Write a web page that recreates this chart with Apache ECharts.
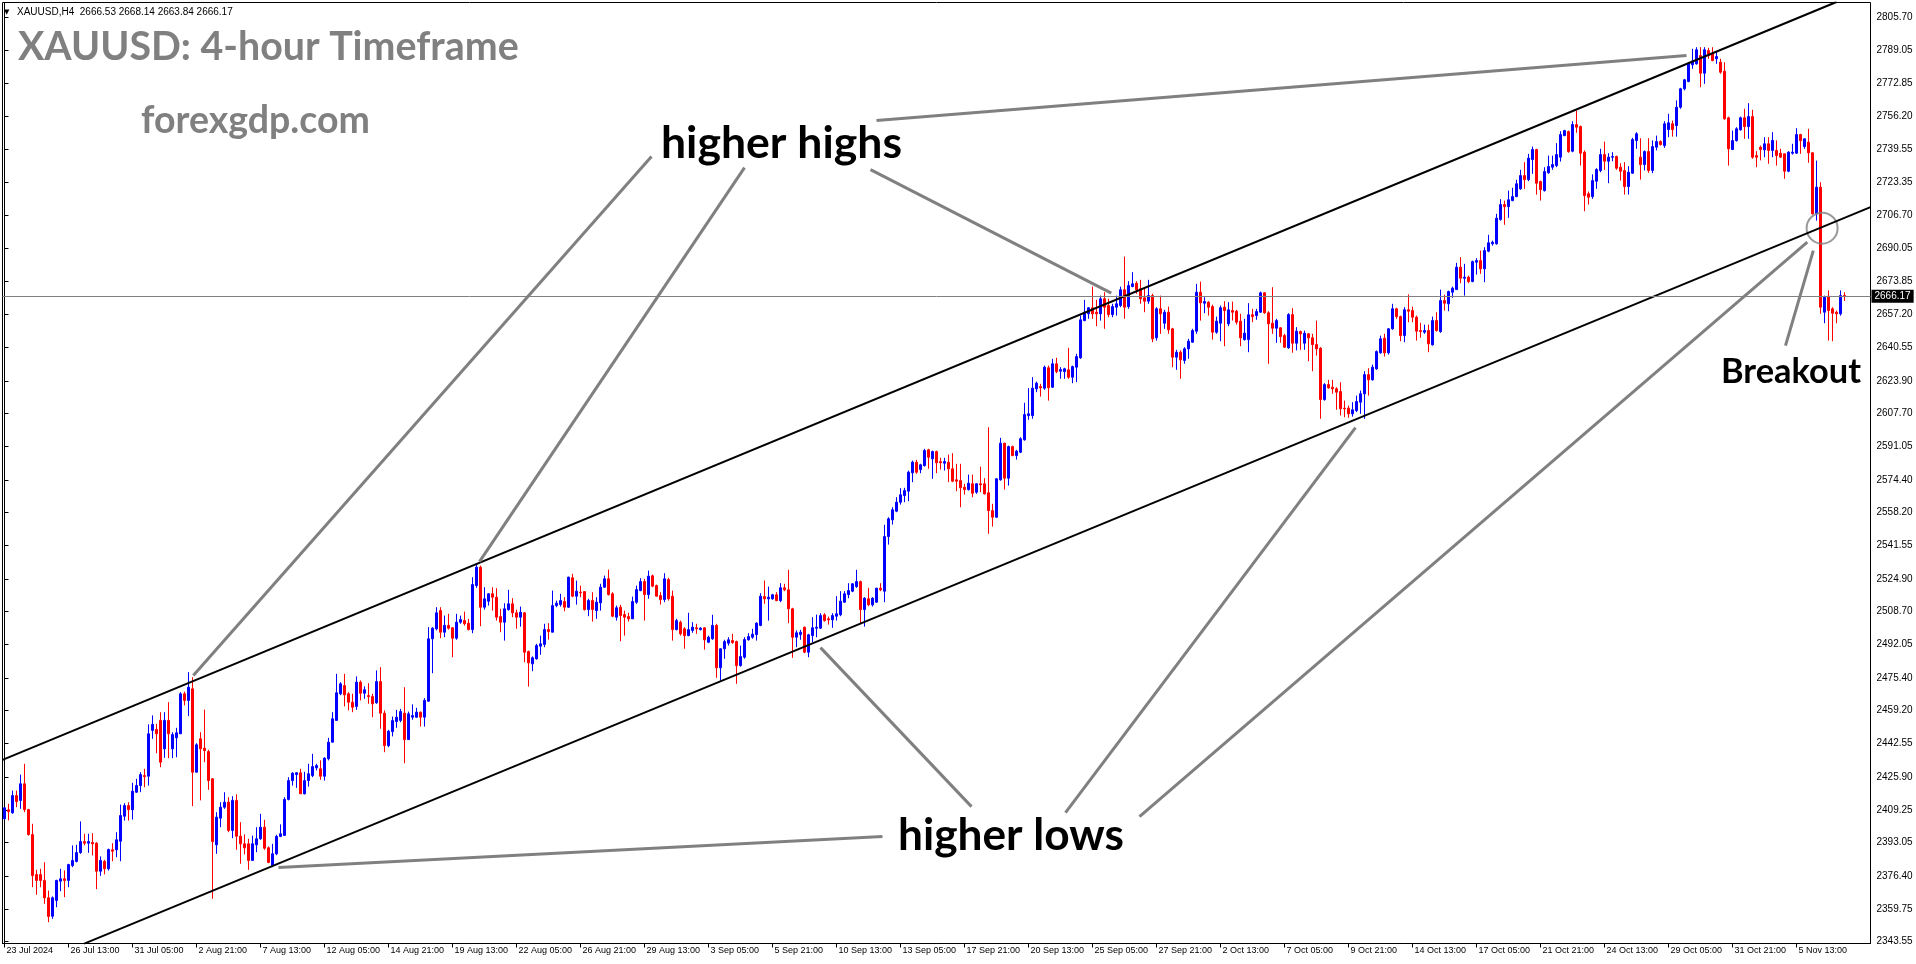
<!DOCTYPE html>
<html>
<head>
<meta charset="utf-8">
<script src="https://cdn.jsdelivr.net/npm/echarts@6/dist/echarts.min.js"></script>
<style>
html,body{margin:0;padding:0;background:#fff;}
#chart{width:1916px;height:964px;}
</style>
</head>
<body>
<div id="chart"></div>
<script>
// ---- data ----
const tickLabels = ['23 Jul 2024','26 Jul 13:00','31 Jul 05:00','2 Aug 21:00','7 Aug 13:00','12 Aug 05:00','14 Aug 21:00','19 Aug 13:00','22 Aug 05:00','26 Aug 21:00','29 Aug 13:00','3 Sep 05:00','5 Sep 21:00','10 Sep 13:00','13 Sep 05:00','17 Sep 21:00','20 Sep 13:00','25 Sep 05:00','27 Sep 21:00','2 Oct 13:00','7 Oct 05:00','9 Oct 21:00','14 Oct 13:00','17 Oct 05:00','21 Oct 21:00','24 Oct 13:00','29 Oct 05:00','31 Oct 21:00','5 Nov 13:00'];
const labelEvery = 16;
const barSlots = 467;
const priceTicks = [2805.70,2789.05,2772.85,2756.20,2739.55,2723.35,2706.70,2690.05,2673.85,2657.20,2640.55,2623.90,2607.70,2591.05,2574.40,2558.20,2541.55,2524.90,2508.70,2492.05,2475.40,2459.20,2442.55,2425.90,2409.25,2393.05,2376.40,2359.75,2343.55];
const currentPrice = 2666.17;
const headerText = 'XAUUSD,H4  2666.53 2668.14 2663.84 2666.17';
// candles: [open, close, low, high]
const ohlc = [
[2404.9,2410.4,2404.4,2410.7],[2409.4,2408.5,2404.1,2412.4],[2407.9,2416.5,2407.4,2419.0],[2416.5,2413.5,2410.7,2419.0],[2414.1,2422.4,2409.9,2427.0],
[2422.4,2409.5,2408.2,2432.4],[2409.5,2397.0,2396.5,2409.9],[2397.0,2376.5,2370.7,2402.4],[2377.0,2374.1,2366.9,2379.4],[2377.0,2374.1,2370.7,2379.9],
[2374.1,2365.4,2362.4,2383.2],[2365.4,2356.1,2353.2,2369.0],[2356.2,2365.4,2354.9,2366.1],[2364.1,2374.1,2360.7,2374.4],[2373.7,2374.9,2368.7,2379.9],
[2374.9,2374.1,2365.7,2379.1],[2374.1,2382.0,2370.7,2382.4],[2381.5,2384.1,2380.7,2391.6],[2383.6,2388.0,2383.1,2391.9],[2388.0,2393.5,2387.4,2403.6],
[2393.5,2392.7,2391.6,2397.4],[2392.7,2393.5,2387.9,2397.4],[2393.1,2392.4,2386.6,2397.7],[2392.7,2378.7,2369.7,2393.2],[2378.7,2384.1,2376.4,2386.1],
[2383.6,2379.9,2377.1,2384.4],[2379.9,2389.5,2379.0,2390.0],[2389.4,2388.7,2383.7,2392.7],[2389.4,2394.4,2385.7,2398.2],[2393.7,2406.5,2383.7,2412.0],
[2406.2,2411.5,2404.0,2412.7],[2411.5,2409.5,2404.0,2413.2],[2409.4,2418.7,2404.5,2422.9],[2418.2,2421.5,2417.9,2424.9],[2421.5,2427.0,2418.2,2428.2],
[2426.5,2426.0,2420.7,2429.9],[2426.2,2447.4,2421.5,2452.1],[2449.1,2452.1,2444.9,2456.6],[2449.6,2447.4,2437.7,2452.4],[2454.1,2433.2,2430.7,2458.2],
[2439.9,2454.1,2435.4,2458.2],[2454.1,2447.4,2435.2,2463.2],[2439.9,2447.0,2435.2,2448.2],[2445.4,2447.9,2435.7,2450.4],[2447.4,2467.4,2447.4,2468.2],
[2467.4,2464.1,2461.6,2468.5],[2464.1,2470.7,2456.2,2478.2],[2469.9,2428.2,2411.2,2475.7],[2428.2,2441.9,2428.2,2442.7],[2444.9,2439.9,2414.1,2448.2],
[2440.2,2439.0,2433.2,2459.5],[2438.5,2424.0,2419.4,2439.4],[2424.9,2393.5,2364.9,2425.2],[2391.9,2405.7,2387.4,2408.2],[2405.2,2410.7,2400.7,2413.2],
[2410.7,2413.2,2409.9,2418.2],[2413.2,2399.1,2398.2,2415.7],[2399.1,2414.1,2395.2,2416.2],[2414.1,2396.2,2389.4,2417.1],[2396.2,2392.4,2382.4,2403.2],
[2392.4,2390.4,2387.1,2397.1],[2392.4,2384.1,2379.4,2394.9],[2384.1,2392.4,2384.1,2396.5],[2391.9,2394.9,2388.2,2400.7],[2394.9,2400.7,2394.4,2407.4],
[2400.7,2390.2,2389.4,2404.4],[2390.4,2383.1,2382.7,2391.1],[2381.5,2387.4,2380.7,2392.4],[2387.4,2396.1,2386.7,2396.9],[2396.1,2397.4,2395.7,2402.1],
[2396.6,2414.6,2396.6,2415.7],[2414.6,2424.0,2414.1,2425.7],[2424.0,2427.7,2421.5,2428.2],[2427.0,2427.9,2420.4,2428.2],[2427.9,2417.4,2417.4,2429.9],
[2417.4,2424.0,2417.1,2428.4],[2424.0,2427.4,2421.0,2432.4],[2426.5,2431.0,2425.7,2437.4],[2430.4,2431.5,2429.1,2432.4],[2429.9,2426.2,2424.4,2434.1],
[2426.2,2435.2,2424.0,2435.7],[2434.9,2443.2,2434.1,2445.4],[2443.2,2454.9,2443.2,2458.2],[2454.1,2467.9,2454.1,2477.4],[2467.4,2472.4,2466.7,2473.2],
[2471.5,2466.9,2461.1,2477.4],[2467.4,2463.2,2459.1,2468.2],[2463.2,2460.7,2458.2,2467.4],[2461.1,2473.2,2459.4,2476.1],[2473.2,2467.7,2464.1,2474.1],
[2467.7,2469.4,2464.9,2471.1],[2466.5,2466.0,2462.4,2472.7],[2466.0,2462.4,2455.7,2467.4],[2462.9,2473.5,2462.4,2479.1],[2473.5,2457.7,2449.9,2480.7],
[2457.7,2441.5,2438.2,2459.1],[2441.5,2448.7,2440.7,2449.4],[2448.5,2454.0,2446.1,2456.0],[2453.5,2455.7,2450.4,2459.4],[2454.1,2458.5,2453.2,2459.9],
[2457.7,2444.5,2432.7,2470.7],[2444.5,2457.4,2444.5,2458.5],[2455.7,2456.5,2454.4,2462.1],[2455.7,2458.2,2455.4,2460.4],[2458.2,2455.7,2451.0,2458.5],
[2455.7,2464.1,2451.0,2465.2],[2463.7,2494.9,2463.5,2500.7],[2494.9,2500.2,2477.7,2500.7],[2499.9,2507.9,2499.1,2510.7],[2509.0,2498.2,2495.2,2510.7],
[2498.2,2501.6,2495.7,2506.5],[2501.6,2500.2,2499.5,2507.4],[2500.4,2495.2,2485.7,2500.7],[2495.2,2503.2,2494.4,2507.4],[2503.2,2504.5,2502.4,2506.5],
[2504.0,2502.4,2501.5,2508.5],[2502.7,2499.5,2499.1,2504.9],[2499.5,2522.0,2497.7,2525.7],[2521.5,2530.7,2520.4,2532.4],[2530.7,2510.7,2501.2,2531.5],
[2510.7,2514.9,2509.5,2520.7],[2513.7,2517.4,2511.5,2517.7],[2517.4,2515.7,2509.0,2520.7],[2515.7,2505.7,2504.0,2520.2],[2506.0,2503.2,2498.2,2509.9],
[2503.2,2509.9,2494.0,2512.7],[2509.5,2512.4,2509.0,2519.4],[2512.4,2507.9,2505.7,2515.2],[2507.9,2505.7,2499.9,2509.5],[2505.7,2508.2,2501.0,2511.0],
[2507.9,2488.2,2483.2,2508.2],[2488.5,2482.9,2471.0,2489.0],[2482.4,2485.4,2478.7,2486.1],[2484.9,2491.5,2484.5,2492.4],[2491.2,2492.4,2486.9,2496.5],
[2492.1,2499.5,2490.7,2502.4],[2499.5,2498.5,2494.5,2502.7],[2498.2,2511.5,2498.2,2519.0],[2511.5,2512.7,2510.7,2514.0],[2512.0,2514.0,2511.0,2517.4],
[2513.5,2510.7,2508.7,2515.7],[2510.7,2525.7,2510.4,2526.0],[2525.4,2516.2,2515.7,2527.4],[2516.2,2518.7,2512.0,2524.0],[2518.2,2517.9,2515.7,2521.5],
[2518.5,2509.5,2509.0,2518.7],[2509.5,2514.0,2506.2,2514.9],[2514.0,2509.5,2503.5,2518.2],[2509.0,2513.2,2504.9,2515.7],[2512.9,2520.7,2509.0,2522.4],
[2520.7,2524.9,2520.4,2526.5],[2524.9,2517.0,2516.5,2529.5],[2517.4,2506.2,2505.7,2518.2],[2505.7,2510.4,2504.0,2511.5],[2510.7,2506.5,2493.7,2511.9],
[2507.0,2505.7,2496.5,2509.0],[2506.0,2504.9,2503.5,2507.9],[2504.9,2513.5,2504.9,2516.0],[2513.2,2519.5,2512.4,2521.5],[2519.0,2523.5,2518.7,2525.2],
[2523.5,2517.0,2504.0,2524.9],[2517.0,2526.2,2514.9,2529.0],[2526.4,2521.2,2520.7,2527.0],[2521.5,2516.2,2516.0,2522.0],[2516.5,2514.5,2512.0,2518.2],
[2514.5,2524.9,2513.2,2527.7],[2524.5,2514.9,2514.0,2525.4],[2516.2,2499.5,2494.0,2519.0],[2499.5,2504.0,2499.1,2504.9],[2503.2,2497.4,2496.5,2504.0],
[2499.9,2496.5,2489.9,2500.7],[2496.5,2499.5,2496.2,2507.9],[2499.1,2500.7,2497.9,2503.2],[2500.4,2499.9,2497.4,2502.4],[2499.5,2500.2,2499.1,2500.7],
[2500.4,2494.4,2489.5,2500.7],[2493.2,2495.7,2492.7,2496.5],[2494.9,2501.6,2494.4,2506.9],[2501.6,2480.4,2475.4,2502.4],[2480.4,2489.9,2474.0,2490.2],
[2489.9,2493.5,2484.9,2494.4],[2492.7,2494.4,2491.5,2495.7],[2494.0,2493.0,2492.4,2497.4],[2493.5,2481.5,2472.4,2494.0],[2481.5,2486.0,2481.0,2491.5],
[2485.7,2494.5,2484.9,2495.7],[2494.4,2496.0,2494.0,2497.7],[2495.7,2497.2,2494.9,2499.9],[2497.0,2502.7,2494.0,2503.2],[2501.6,2516.2,2501.2,2517.7],
[2516.0,2514.9,2512.4,2524.0],[2514.9,2515.7,2504.0,2521.0],
[2514.9,2516.9,2514.4,2517.4],[2516.9,2514.0,2513.7,2518.2],[2514.0,2520.4,2513.2,2522.7],[2520.4,2519.4,2518.7,2522.4],[2519.4,2509.9,2502.7,2529.4],
[2509.9,2495.7,2485.4,2510.4],[2495.7,2497.9,2490.7,2499.1],[2497.0,2498.2,2494.4,2499.4],[2500.7,2488.2,2487.7,2501.0],[2488.2,2496.9,2485.7,2497.4],
[2496.5,2500.4,2493.2,2505.7],[2500.2,2500.7,2495.7,2507.0],[2500.2,2506.5,2499.9,2507.7],[2506.9,2504.0,2503.5,2507.7],[2504.9,2504.4,2502.0,2506.0],
[2504.4,2506.5,2500.4,2507.7],[2506.2,2507.4,2504.0,2516.2],[2506.9,2513.7,2506.2,2518.7],[2513.2,2517.4,2512.9,2518.7],[2517.0,2519.0,2515.2,2522.7],
[2518.7,2522.4,2518.2,2522.7],[2521.0,2523.5,2520.4,2529.4],[2523.5,2509.5,2502.4,2524.0],[2509.5,2515.2,2501.0,2515.7],[2514.9,2511.9,2511.2,2520.4],
[2511.9,2515.2,2511.0,2515.7],[2513.2,2520.2,2512.9,2520.4],[2520.2,2519.4,2518.7,2522.7],[2518.7,2546.0,2513.2,2551.9],[2546.0,2554.9,2542.0,2555.7],
[2554.4,2559.4,2552.0,2560.7],[2558.7,2563.2,2558.2,2565.7],[2563.2,2566.9,2562.0,2570.2],[2566.5,2569.0,2563.2,2570.4],[2568.7,2578.2,2563.7,2579.0],
[2577.9,2583.2,2573.2,2584.0],[2583.2,2578.2,2577.4,2584.4],[2579.5,2581.9,2577.7,2582.4],[2581.5,2589.0,2581.0,2589.9],[2589.4,2585.7,2579.9,2589.9],
[2584.9,2588.5,2574.9,2589.0],[2588.5,2582.9,2577.7,2589.0],[2583.5,2582.9,2579.5,2585.4],[2582.7,2583.5,2579.0,2585.4],[2583.2,2579.9,2573.2,2587.0],
[2579.9,2573.7,2573.2,2587.7],[2574.4,2573.7,2568.7,2582.4],[2574.0,2570.4,2560.7,2582.4],[2570.7,2569.5,2567.0,2572.4],[2569.5,2572.7,2569.0,2577.0],
[2572.4,2567.7,2565.7,2577.0],[2568.2,2572.4,2567.4,2572.7],[2572.4,2571.9,2568.2,2581.0],[2572.4,2567.4,2567.0,2575.2],[2567.9,2559.0,2547.4,2600.7],
[2559.0,2555.7,2551.0,2562.4],[2555.7,2574.9,2555.4,2575.2],[2574.4,2592.7,2574.0,2595.4],[2592.7,2575.2,2569.5,2592.9],[2575.2,2591.0,2571.5,2591.5],
[2591.0,2586.5,2586.2,2591.5],[2586.5,2588.7,2584.5,2589.4],[2588.2,2594.9,2587.7,2595.7],[2594.4,2607.0,2594.0,2612.9],[2606.5,2607.4,2604.4,2620.2],
[2606.5,2620.2,2604.9,2625.7],[2619.9,2622.7,2618.2,2623.5],[2621.0,2620.4,2616.0,2622.4],[2620.2,2630.7,2619.4,2631.5],[2630.4,2620.4,2614.0,2631.5],
[2620.7,2632.4,2620.4,2634.9],[2632.4,2628.5,2627.7,2635.4],[2628.7,2629.5,2624.9,2630.7],[2628.5,2629.9,2624.9,2630.4],[2629.4,2625.7,2624.9,2640.4],
[2625.7,2631.0,2622.7,2631.5],[2630.7,2636.0,2623.2,2637.4],[2635.4,2654.4,2634.9,2656.5],[2654.0,2658.2,2653.7,2664.4],[2657.4,2660.4,2654.9,2660.7],
[2660.4,2657.4,2654.9,2671.0],[2658.2,2657.4,2651.2,2664.4],[2657.4,2664.9,2654.0,2666.5],[2664.9,2660.7,2649.9,2668.2],[2661.5,2657.0,2655.7,2664.9],
[2657.0,2661.0,2655.7,2662.4],[2660.7,2662.4,2656.5,2666.5],[2661.5,2669.4,2660.7,2671.0],[2669.4,2660.7,2654.9,2686.0],[2661.0,2671.5,2659.9,2673.7],
[2671.0,2672.4,2670.7,2678.2],[2672.7,2669.4,2667.4,2673.7],[2669.9,2664.9,2662.4,2674.4],[2665.4,2663.7,2658.2,2670.7],[2663.7,2666.5,2662.4,2674.4],
[2666.5,2644.9,2643.2,2667.4],[2645.4,2659.9,2644.0,2660.7],[2659.9,2657.4,2647.4,2666.5],[2652.7,2658.2,2649.9,2659.4],[2658.2,2649.4,2647.4,2661.0],
[2649.9,2635.7,2630.7,2650.4],[2635.7,2638.2,2629.4,2639.4],[2638.2,2634.4,2624.9,2639.1],[2634.1,2639.9,2632.4,2640.7],[2639.9,2643.7,2634.9,2644.9],
[2643.2,2649.0,2642.9,2649.9],[2648.7,2668.2,2647.4,2672.4],[2668.2,2662.9,2654.0,2673.5],[2662.7,2663.5,2657.7,2665.7],[2663.2,2660.7,2656.5,2663.7],
[2661.0,2648.2,2644.5,2662.0],[2648.2,2653.7,2647.4,2656.0],[2652.7,2660.4,2643.7,2661.5],[2660.7,2659.0,2641.2,2663.7],[2652.4,2659.4,2651.2,2663.2],
[2659.0,2658.2,2654.0,2663.5],[2658.7,2653.2,2652.0,2659.4],[2653.7,2645.4,2641.2,2657.4],[2644.5,2647.7,2644.0,2654.9],[2644.5,2656.9,2638.2,2662.7],
[2656.9,2656.0,2653.2,2659.9],[2656.5,2658.5,2654.4,2659.9],[2658.2,2667.9,2657.9,2668.5],[2667.9,2657.9,2657.4,2668.2],[2657.9,2652.4,2632.4,2658.7],
[2652.7,2650.2,2647.4,2670.7],[2650.2,2654.0,2642.9,2654.9],[2650.4,2646.0,2642.9,2650.7],[2646.5,2640.7,2640.4,2647.4],[2640.4,2657.0,2639.9,2657.7],
[2657.0,2642.7,2637.9,2660.2],[2642.7,2648.7,2639.1,2650.7],[2648.5,2647.4,2639.4,2649.0],[2642.7,2647.7,2639.4,2649.0],[2647.4,2645.4,2633.7,2647.7],
[2645.4,2642.0,2628.7,2647.4],[2642.0,2639.9,2636.5,2654.0],[2640.2,2614.5,2604.9,2640.7],[2614.5,2622.0,2614.0,2622.7],[2622.0,2620.4,2619.9,2624.4],
[2620.7,2619.9,2617.4,2624.4],[2619.9,2618.2,2609.4,2620.7],[2618.5,2609.9,2606.5,2623.2],[2610.2,2609.9,2605.7,2614.0],[2610.2,2607.4,2605.4,2611.5],
[2607.4,2609.4,2606.0,2613.2],[2609.0,2613.5,2608.2,2616.5],[2613.2,2617.4,2607.4,2619.0],[2617.4,2627.0,2604.9,2628.7],[2627.0,2624.4,2616.5,2630.2],
[2624.4,2630.7,2624.0,2632.0],[2629.9,2638.5,2629.4,2639.1],[2637.9,2644.9,2637.4,2646.5],[2645.2,2637.9,2636.0,2647.4],[2637.9,2649.9,2637.0,2650.2],
[2649.9,2659.9,2649.4,2662.4],[2659.9,2656.0,2654.9,2660.4],[2656.0,2646.5,2643.7,2656.5],[2646.5,2659.4,2643.2,2660.7],[2659.4,2658.7,2653.2,2667.1],
[2659.0,2655.7,2653.2,2661.0],[2655.7,2648.7,2644.0,2656.5],[2649.0,2648.5,2645.4,2652.9],[2648.2,2649.0,2647.4,2652.0],[2649.0,2642.4,2638.2,2652.0],
[2641.9,2654.0,2641.5,2656.0],[2654.0,2649.0,2648.5,2658.2],[2648.5,2664.0,2647.9,2669.5],[2664.0,2662.7,2659.0,2666.9],[2662.4,2668.5,2658.7,2669.0],
[2668.2,2670.2,2665.4,2671.0],[2669.5,2680.7,2669.4,2682.9],[2680.7,2675.2,2672.7,2685.7],[2675.2,2675.7,2666.5,2682.4],[2675.7,2673.5,2672.7,2676.5],
[2673.5,2683.5,2673.2,2684.0],[2683.2,2684.0,2677.0,2685.2],[2684.0,2679.9,2677.4,2689.0],[2679.9,2689.0,2673.2,2690.7],[2688.7,2692.9,2688.2,2696.9],
[2692.4,2693.2,2691.5,2694.0],[2692.4,2705.2,2692.0,2707.4],[2704.5,2712.0,2704.0,2714.7],[2712.0,2711.0,2701.9,2714.0],[2711.0,2714.4,2705.4,2719.0],
[2714.0,2716.0,2713.7,2720.4],[2716.0,2722.4,2715.7,2724.4],[2719.9,2726.5,2719.4,2729.4],[2726.5,2724.5,2719.9,2733.2],[2724.5,2735.2,2723.7,2737.4],
[2734.5,2739.5,2727.4,2741.0],[2739.5,2722.7,2717.0,2739.9],[2723.5,2719.5,2714.0,2724.0],[2719.0,2728.5,2718.5,2730.7],[2727.9,2731.0,2727.4,2736.5],
[2730.7,2732.0,2729.4,2736.5],[2731.5,2737.0,2730.7,2742.7],[2735.7,2747.0,2733.5,2748.7],[2746.5,2749.0,2746.2,2749.4],[2748.5,2738.5,2737.9,2749.0],
[2738.7,2752.0,2738.2,2753.7],[2752.0,2750.7,2747.9,2759.0],[2751.0,2737.7,2731.5,2751.5],[2738.2,2716.5,2708.7,2739.1],[2717.4,2715.7,2712.0,2718.5],
[2716.0,2724.0,2714.9,2727.1],[2723.7,2729.5,2719.9,2730.2],[2729.0,2737.0,2728.2,2739.9],[2737.0,2733.7,2729.4,2743.5],[2733.7,2735.7,2722.7,2737.7],
[2735.7,2736.0,2733.7,2738.2],[2736.0,2730.2,2729.4,2736.5],[2730.7,2728.7,2724.0,2732.7],[2729.0,2721.0,2717.0,2733.2],[2721.0,2728.2,2717.0,2731.2],
[2727.7,2744.5,2727.4,2745.4],[2744.0,2747.4,2739.9,2748.2],[2735.7,2732.0,2724.5,2745.2],[2732.0,2738.5,2729.1,2739.1],[2738.5,2729.1,2727.9,2745.2],
[2729.1,2741.0,2727.7,2744.1],[2740.7,2743.5,2739.1,2746.5],[2743.5,2742.0,2741.5,2744.1],
[2741.5,2752.4,2740.4,2753.7],[2749.5,2752.9,2745.7,2757.4],[2752.4,2749.5,2746.0,2754.0],[2751.5,2760.7,2746.0,2764.1],[2760.7,2769.9,2759.9,2770.4],
[2769.9,2774.4,2769.1,2774.9],[2773.5,2782.4,2773.2,2783.2],[2781.9,2783.7,2779.9,2789.9],[2782.4,2789.4,2782.0,2790.7],[2786.5,2777.7,2770.7,2790.7],
[2777.7,2789.4,2772.4,2790.7],[2789.0,2786.5,2784.9,2790.4],[2787.7,2784.0,2783.7,2790.7],[2784.9,2786.0,2782.4,2788.2],[2783.2,2778.2,2777.4,2784.9],
[2778.7,2754.9,2754.4,2783.2],[2755.4,2739.9,2731.5,2756.0],[2739.5,2744.0,2739.4,2749.0],[2744.0,2749.9,2743.5,2750.7],[2749.4,2755.4,2749.0,2756.0],
[2755.4,2751.0,2744.9,2759.9],[2751.0,2756.0,2744.9,2762.7],[2756.0,2735.7,2734.9,2759.4],[2736.5,2735.7,2730.7,2738.7],[2740.7,2739.5,2734.1,2741.5],
[2739.4,2742.4,2735.7,2745.7],[2742.4,2739.1,2732.4,2745.7],[2739.1,2744.1,2735.7,2748.2],[2739.1,2736.5,2731.5,2744.1],[2737.7,2735.7,2735.4,2739.9],
[2737.4,2728.7,2724.9,2737.4],[2728.7,2738.2,2728.2,2738.7],[2737.7,2738.2,2737.0,2742.4],[2737.7,2747.0,2737.4,2750.2],[2747.0,2744.0,2737.4,2747.4],
[2741.0,2744.9,2739.9,2744.9],[2743.2,2737.9,2732.9,2749.9],[2737.9,2707.4,2707.0,2738.2],[2707.4,2720.7,2704.0,2734.0],[2720.7,2660.7,2657.4,2723.2],
[2658.2,2665.7,2652.7,2666.5],[2666.2,2659.0,2644.0,2669.1],[2659.9,2657.7,2643.7,2660.7],[2658.2,2657.4,2652.7,2659.0],[2657.4,2666.5,2656.5,2669.1],
[2666.53,2666.17,2663.84,2668.14]
];
// channel lines [barIndex, price]
const upperChannel = [[-0.5, 2434.4], [458, 2813.3]];
const lowerChannel = [[19.8, 2342.4], [466.5, 2710.7]];
// gray pointer lines [barIndex, price]
const pointerLines = [
  [[161.75, 2736.0], [47.2, 2476.6]],
  [[185.0, 2730.5], [118.75, 2533.5]],
  [[216.5, 2729.5], [276.7, 2667.7]],
  [[218.0, 2754.0], [420.5, 2786.5]],
  [[219.5, 2396.0], [68.5, 2380.5]],
  [[241.75, 2411.0], [204.0, 2490.5]],
  [[265.25, 2408.0], [337.75, 2600.5]],
  [[283.75, 2406.0], [450.7, 2693.2]],
  [[445.25, 2641.5], [452.2, 2689.0]]
];
const breakoutCircle = [454.4, 2700.2];

// ---- chart ----
const categories = Array.from({length: barSlots}, (_, i) => String(i));
const isLabelIdx = (i) => i % labelEvery === 0 && (i / labelEvery) < tickLabels.length;

function fitSize(text, font, target) {
  const ctx = document.createElement('canvas').getContext('2d');
  ctx.font = 'bold 100px ' + font;
  return 100 * target / ctx.measureText(text).width;
}
const bigFont = 'Lato, "Open Sans", sans-serif';
function bigText(text, left, baseline, width, color) {
  const s = fitSize(text, bigFont, width);
  return {
    type: 'text', x: left, y: baseline - 0.36 * s, silent: true,
    style: { text: text, font: 'bold ' + s.toFixed(2) + 'px ' + bigFont, fill: color,
      textAlign: 'left', textVerticalAlign: 'middle', align: 'left', verticalAlign: 'middle' }
  };
}

const chart = echarts.init(document.getElementById('chart'), null, {renderer: 'canvas'});
const series = [
  {
    type: 'candlestick', name: 'XAUUSD', data: ohlc, xAxisIndex: 0, yAxisIndex: 0,
    barWidth: 2,
    itemStyle: { color: '#0000ff', color0: '#ff0000', borderColor: '#0000ff', borderColor0: '#ff0000', borderWidth: 1 },
    silent: true,
    markLine: {
      silent: true, symbol: ['none', 'none'], animation: false,
      lineStyle: { color: '#808080', width: 1, type: 'solid' },
      label: { show: true, position: 'end', distance: 1, formatter: currentPrice.toFixed(2),
        backgroundColor: '#000', color: '#fff', padding: [2, 3, 1, 3], fontSize: 10, fontFamily: 'Liberation Sans' },
      data: [{ yAxis: currentPrice }]
    }
  },
  { type: 'line', data: upperChannel, xAxisIndex: 1, symbol: 'none', silent: true,
    lineStyle: { color: '#000', width: 2 } },
  { type: 'line', data: lowerChannel, xAxisIndex: 1, symbol: 'none', silent: true,
    lineStyle: { color: '#000', width: 2 } }
];
pointerLines.forEach(seg => series.push({
  type: 'line', data: seg, xAxisIndex: 1, symbol: 'none', silent: true,
  lineStyle: { color: '#808080', width: 3, cap: 'butt' }
}));
series.push({
  type: 'scatter', data: [breakoutCircle], xAxisIndex: 1, symbol: 'circle', symbolSize: 31, silent: true,
  itemStyle: { color: 'rgba(0,0,0,0)', borderColor: '#808080', borderWidth: 2 }
});

const hdrFont = 'Liberation Sans, Arial, sans-serif';
chart.setOption({
  animation: false,
  backgroundColor: '#fff',
  grid: { left: 2.5, top: 2.5, right: 45.5, bottom: 20.5, show: true, borderColor: '#000', borderWidth: 1, backgroundColor: '#fff' },
  xAxis: [
    {
      type: 'category', data: categories, boundaryGap: true,
      axisLine: { show: true, lineStyle: { color: '#000', width: 1 } },
      axisTick: { show: true, alignWithLabel: true, length: 4, interval: (i) => isLabelIdx(i), lineStyle: { color: '#000' } },
      axisLabel: { show: true, interval: (i) => isLabelIdx(i), align: 'left', margin: 3, padding: [0, 0, 0, 2],
        formatter: (v) => { const i = +v; return isLabelIdx(i) ? tickLabels[i / labelEvery] : ''; },
        color: '#000', fontSize: 9, fontFamily: hdrFont },
      splitLine: { show: false }
    },
    { type: 'value', min: -0.5, max: barSlots - 0.5, show: false, gridIndex: 0 }
  ],
  yAxis: {
    type: 'value', position: 'right', min: 2342.55, max: 2813.05, scale: true,
    axisLine: { show: true, lineStyle: { color: '#000', width: 1 } },
    axisTick: { show: true, length: 4, customValues: priceTicks, lineStyle: { color: '#000' } },
    axisLabel: { show: true, customValues: priceTicks, formatter: (v) => v.toFixed(2), margin: 6,
      color: '#000', fontSize: 10, fontFamily: hdrFont },
    splitLine: { show: false }
  },
  series: series,
  graphic: [
    { type: 'text', x: 4, y: 12, silent: true, style: { text: '▼', font: '7px "DejaVu Sans"', fill: '#000', textVerticalAlign: 'middle', verticalAlign: 'middle' } },
    { type: 'text', x: 17, y: 12, silent: true, style: { text: headerText, font: '10px ' + hdrFont, fill: '#000', textVerticalAlign: 'middle', verticalAlign: 'middle' } },
    bigText('XAUUSD: 4-hour Timeframe', 18, 61, 501, '#808080'),
    bigText('forexgdp.com', 141, 134.5, 229, '#808080'),
    bigText('higher highs', 661, 160, 241, '#000'),
    bigText('higher lows', 898, 852, 226, '#000'),
    bigText('Breakout', 1721, 384, 140, '#000')
  ]
});
</script>
</body>
</html>
